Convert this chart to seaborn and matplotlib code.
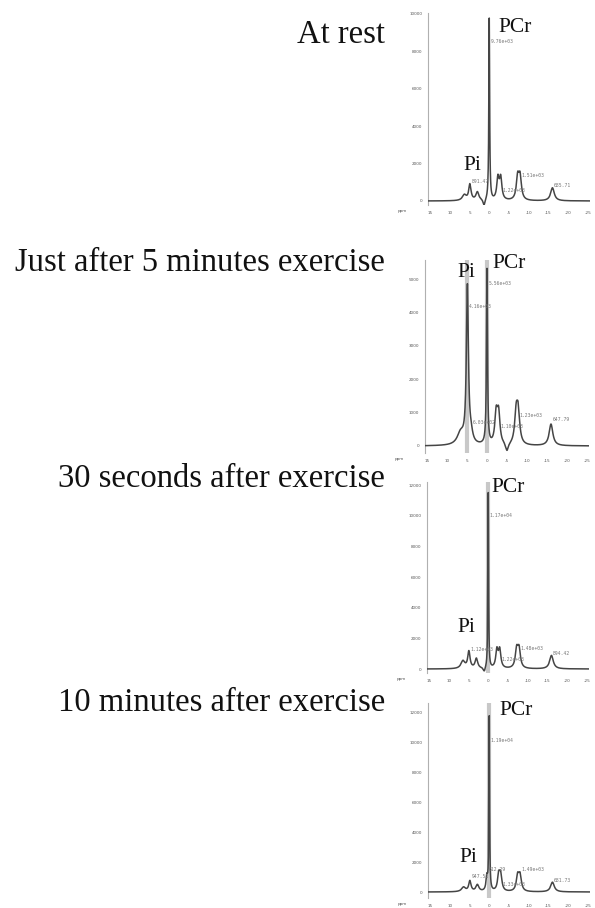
import numpy as np
import pandas as pd
import matplotlib
matplotlib.use("Agg")
import matplotlib.pyplot as plt
import seaborn as sns

# ---------------- data ----------------
panel_titles = ["At rest", "Just after 5 minutes exercise",
                "30 seconds after exercise", "10 minutes after exercise"]

# peak positions (ppm), heights (a.u.), half-widths (ppm) for each spectrum
rest_pos = [6.3, 4.9, 3.0, 1.3, 0.0, -2.2, -2.9, -7.2, -7.8, -16.0]
rest_hgt = [300, 850, 450, -350, 9750, 1150, 1150, 1190, 1190, 700]
rest_wid = [0.6, 0.35, 0.45, 0.3, 0.12, 0.35, 0.35, 0.4, 0.4, 0.55]

ex_pos = [6.6, 4.9, 4.0, 0.0, -2.3, -2.9, -5.0, -7.3, -7.8, -16.0]
ex_hgt = [350, 4700, 250, 5250, 890, 890, -250, 890, 890, 650]
ex_wid = [1.0, 0.3, 0.5, 0.15, 0.4, 0.4, 0.4, 0.45, 0.45, 0.55]

s30_pos = [6.4, 4.9, 3.0, 1.0, 0.0, -2.2, -2.9, -7.2, -7.8, -16.0]
s30_hgt = [500, 1100, 650, -300, 11500, 1170, 1170, 1190, 1190, 880]
s30_wid = [0.6, 0.35, 0.4, 0.3, 0.1, 0.35, 0.35, 0.4, 0.4, 0.55]

m10_pos = [6.5, 4.9, 3.0, 0.6, 0.0, -2.4, -2.9, -7.2, -7.8, -16.0]
m10_hgt = [300, 700, 450, 900, 11600, 1050, 1050, 1000, 1000, 650]
m10_wid = [0.6, 0.35, 0.45, 0.25, 0.1, 0.35, 0.35, 0.4, 0.4, 0.55]

# y-axis ticks of each panel
rest_yticks = [0, 2000, 4000, 6000, 8000, 10000]
ex_yticks = [0, 1000, 2000, 3000, 4000, 5000]
s30_yticks = [0, 2000, 4000, 6000, 8000, 10000, 12000]
m10_yticks = [0, 2000, 4000, 6000, 8000, 10000, 12000]
ppm_ticks = [15, 10, 5, 0, -5, -10, -15, -20, -25]

# peak value annotations: (peak index, text)
rest_notes = [(4, "9.76e+03"), (1, "891.47"), (6, "1.22e+03"), (8, "1.51e+03"), (9, "685.71")]
ex_notes = [(1, "4.16e+03"), (3, "5.56e+03"), (2, "6.03e+02"), (5, "1.10e+03"), (8, "1.23e+03"), (9, "647.79")]
s30_notes = [(4, "1.17e+04"), (1, "1.12e+03"), (6, "1.22e+03"), (8, "1.48e+03"), (9, "894.42")]
m10_notes = [(4, "1.19e+04"), (3, "612.29"), (1, "947.51"), (6, "1.33e+03"), (8, "1.49e+03"), (9, "681.73")]

# peaks marked with a fitted (grey) line
rest_marks = []
ex_marks = [1, 3]
s30_marks = [4]
m10_marks = [4]

panels = [
    dict(pos=rest_pos, hgt=rest_hgt, wid=rest_wid, yt=rest_yticks, notes=rest_notes, marks=rest_marks),
    dict(pos=ex_pos, hgt=ex_hgt, wid=ex_wid, yt=ex_yticks, notes=ex_notes, marks=ex_marks),
    dict(pos=s30_pos, hgt=s30_hgt, wid=s30_wid, yt=s30_yticks, notes=s30_notes, marks=s30_marks),
    dict(pos=m10_pos, hgt=m10_hgt, wid=m10_wid, yt=m10_yticks, notes=m10_notes, marks=m10_marks),
]

# ---------------- layout ----------------
W, H = 595, 908
sns.set_theme(style="white")
plt.rcParams["font.family"] = ["DejaVu Sans"]
fig = plt.figure(figsize=(W / 100, H / 100), dpi=100)

# axes boxes in pixels: left, top, right, bottom
boxes = [(428, 13, 590, 205), (425, 260, 589, 453), (427, 482, 589, 673), (428, 703, 590, 898)]
ylims = [(-214, 10050), (-210, 5570), (-260, 12200), (-400, 12600)]
title_base = [43, 271, 487, 711]
pi_lab = [(463, 170), (457, 277), (457, 632), (459, 862)]
pcr_lab = [(498, 32), (492, 268), (491, 492), (499, 715)]
# vertical placement of each annotation (fraction of the peak height) per panel
note_frac = [
    [0.86, 1.05, 0.35, 1.0, 1.0],
    [0.86, 0.9, 2.2, 0.5, 0.85, 1.0],
    [0.86, 1.05, 0.4, 1.0, 1.0],
    [0.86, 1.5, 1.3, 0.35, 1.35, 1.0],
]

ppm = np.linspace(15.5, -25.5, 2000)

for i, p in enumerate(panels):
    l, t, r, b = boxes[i]
    ax = fig.add_axes([l / W, 1 - b / H, (r - l) / W, (b - t) / H])
    y = np.zeros_like(ppm)
    for x0, h, w in zip(p["pos"], p["hgt"], p["wid"]):
        y += h / (1 + ((ppm - x0) / w) ** 2)
    df = pd.DataFrame({"ppm": ppm, "signal": y})
    ax.set_xlim(15.5, -25.5)
    ax.set_ylim(*ylims[i])
    # grey fitted-peak markers
    for k in p["marks"]:
        ax.vlines(p["pos"][k], ylims[i][0], ylims[i][1], color="#c8c8c8", lw=3.0, zorder=1)
    sns.lineplot(data=df, x="ppm", y="signal", ax=ax, color="#454545", lw=1.1, zorder=3)
    for j, (k, txt) in enumerate(p["notes"]):
        ax.text(p["pos"][k] - 0.4, p["hgt"][k] * note_frac[i][j] + 150, txt, fontsize=3.4,
                color="#777777", family="DejaVu Sans Mono", ha="left", va="center", zorder=4)
    ax.set_xticks(ppm_ticks)
    ax.set_xticklabels([str(v) for v in ppm_ticks])
    ax.set_yticks(p["yt"])
    ax.set_yticklabels([str(v) for v in p["yt"]])
    ax.tick_params(axis="both", labelsize=3, colors="#555555", length=2, width=0.5, pad=2)
    ax.tick_params(axis="x", length=0, pad=4)
    ax.set_xlabel("")
    ax.set_ylabel("")
    for s in ["top", "right", "bottom"]:
        ax.spines[s].set_visible(False)
    ax.spines["left"].set_color("#b0b0b0")
    ax.spines["left"].set_linewidth(0.8)
    ax.patch.set_alpha(0)

    # labels
    fig.text(385 / W, 1 - title_base[i] / H, panel_titles[i], ha="right", va="baseline",
             fontsize=23.5, family="Liberation Serif", color="#111111")
    fig.text(pi_lab[i][0] / W, 1 - pi_lab[i][1] / H, "Pi", ha="left", va="baseline",
             fontsize=15.5, family="Liberation Serif", color="#111111")
    fig.text(pcr_lab[i][0] / W, 1 - pcr_lab[i][1] / H, "PCr", ha="left", va="baseline",
             fontsize=15.5, family="Liberation Serif", color="#111111")
    fig.text((l - 30) / W, 1 - (b + 7) / H, "ppm", fontsize=3, color="#555555")

fig.savefig("out.png", dpi=100, facecolor="white")
